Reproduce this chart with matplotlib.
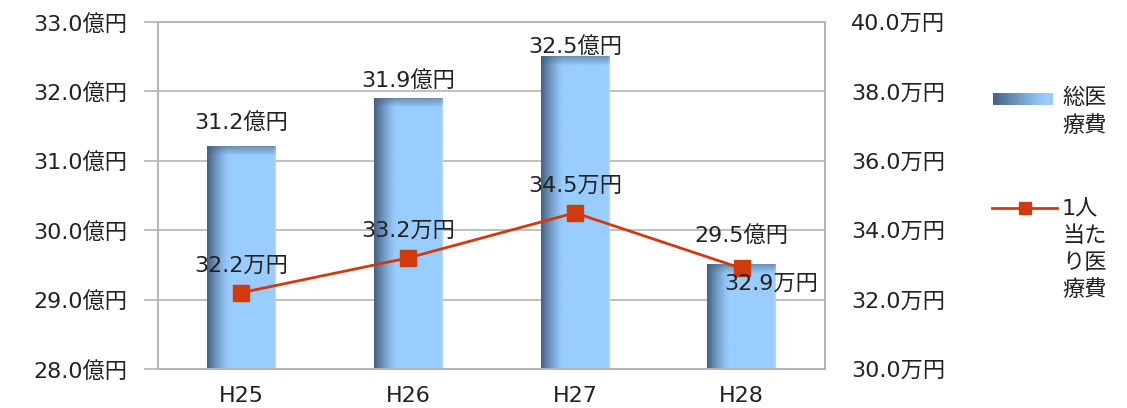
import numpy as np
import matplotlib
matplotlib.use("Agg")
import matplotlib.pyplot as plt
from matplotlib.ticker import FuncFormatter

plt.rcParams['font.family'] = ['DejaVu Sans', 'Noto Sans CJK JP']

# ---- data ----
years = ["H25", "H26", "H27", "H28"]
total_cost = [31.2, 31.9, 32.5, 29.5]        # 総医療費 (億円)
per_capita = [32.2, 33.2, 34.5, 32.9]        # 1人当たり医療費 (万円)
left_ticks = [28.0, 29.0, 30.0, 31.0, 32.0, 33.0]
right_ticks = [30.0, 32.0, 34.0, 36.0, 38.0, 40.0]
bar_label_name = "総医\n療費"
line_label_name = "1人\n当た\nり医\n療費"

# ---- styling ----
FS = 16
TXT = "#222222"
GRID = "#B4B4B4"
LINE_C = "#D13A0C"
DARK = np.array([0.27, 0.38, 0.50])
LIGHT = np.array([0.60, 0.80, 1.00])
BAR_W = 0.41
# label offsets in points (dx, dy)
bar_label_off = [(0, 10), (0, 5), (0, 0), (0, 14)]
line_label_off = [(0, 12), (0, 12), (0, 12), (21, -11)]
line_label_va = ["bottom", "bottom", "bottom", "center"]

fig = plt.figure(figsize=(11.27, 4.08), dpi=100)
ax = fig.add_axes([158 / 1127, 39 / 408, (825 - 158) / 1127, (369 - 22) / 408])
ax2 = ax.twinx()

x = np.arange(len(years))
ymin, ymax = left_ticks[0], left_ticks[-1]
ax_h_px = 369 - 22
px_per_unit = ax_h_px / (ymax - ymin)


def bar_gradient(height_px, nx=120):
    ny = max(int(height_px), 2)
    u = np.linspace(0, 1, nx)[None, :]
    v = np.linspace(0, height_px, ny)[:, None]  # distance from top in px
    f = np.clip(1 - u / 0.32, 0, 1) ** 1.3
    g = np.clip(1 - v / 9.0, 0, 1) * 0.55
    m = np.clip(f + g * (1 - f), 0, 1)
    img = LIGHT[None, None, :] * (1 - m[..., None]) + DARK[None, None, :] * m[..., None]
    # slight highlight at right edge
    edge = np.clip(1 - (1 - u) / 0.03, 0, 1)[..., None] * 0.25
    img = img * (1 - edge) + edge
    return np.clip(img, 0, 1)


for xi, h in zip(x, total_cost):
    hp = (h - ymin) * px_per_unit
    ax.imshow(bar_gradient(hp), extent=(xi - BAR_W / 2, xi + BAR_W / 2, ymin, h),
              aspect='auto', interpolation='bilinear', zorder=2, origin='upper')

for xi, h, off in zip(x, total_cost, bar_label_off):
    ax.annotate(f"{h:.1f}億円", (xi, h), xytext=off, textcoords='offset points',
                ha='center', va='bottom', fontsize=FS, color=TXT, zorder=5)

ax.set_xlim(-0.5, len(years) - 0.5)
ax.set_ylim(ymin, ymax)
ax.set_yticks(left_ticks)
ax.yaxis.set_major_formatter(FuncFormatter(lambda v, p: f"{v:.1f}億円"))
ax.set_xticks(x)
ax.set_xticklabels(years)
ax.grid(axis='y', color=GRID, linewidth=1.2, zorder=0)
ax.set_axisbelow(True)
ax.tick_params(axis='y', length=10, width=1.2, color=GRID, pad=12,
               labelsize=FS, labelcolor=TXT)
ax.tick_params(axis='x', length=0, pad=12, labelsize=FS, labelcolor=TXT)

for s in ["left", "right", "bottom", "top"]:
    ax.spines[s].set_color(GRID)
    ax.spines[s].set_linewidth(1.2)
    ax2.spines[s].set_color(GRID)
    ax2.spines[s].set_linewidth(1.2)

ax2.plot(x, per_capita, color=LINE_C, linewidth=2.0, marker='s', markersize=11,
         markeredgecolor=LINE_C, markerfacecolor=LINE_C, zorder=4)
for xi, v, off, va in zip(x, per_capita, line_label_off, line_label_va):
    ax2.annotate(f"{v:.1f}万円", (xi, v), xytext=off, textcoords='offset points',
                 ha='center', va=va, fontsize=FS, color=TXT, zorder=6)
ax2.set_ylim(right_ticks[0], right_ticks[-1])
ax2.set_yticks(right_ticks)
ax2.yaxis.set_major_formatter(FuncFormatter(lambda v, p: f"{v:.1f}万円"))
ax2.tick_params(axis='y', length=0, pad=19, labelsize=FS, labelcolor=TXT)
ax2.set_xlim(-0.5, len(years) - 0.5)

# ---- legend (drawn beside the plot) ----
W, H = 1127, 408
sw = fig.add_axes([993 / W, (H - 105) / H, 60 / W, 12 / H])
u = np.linspace(0, 1, 100)[None, :]
m = np.clip(1 - u / 0.9, 0, 1) ** 1.2
sw_img = LIGHT[None, None, :] * (1 - m[..., None]) + DARK[None, None, :] * m[..., None]
sw.imshow(sw_img, aspect='auto', interpolation='bilinear')
sw.axis('off')

fig.lines.append(plt.Line2D([992 / W, 1057 / W], [(H - 208) / H] * 2, transform=fig.transFigure,
                            color=LINE_C, linewidth=2.0))
fig.lines.append(plt.Line2D([1025 / W], [(H - 208) / H], transform=fig.transFigure,
                            color=LINE_C, marker='s', markersize=9, linestyle='none'))

fig.text(1062 / W, (H - 88) / H, bar_label_name, fontsize=FS, color=TXT,
         va='top', ha='left', linespacing=1.42)
fig.text(1062 / W, (H - 199) / H, line_label_name, fontsize=FS, color=TXT,
         va='top', ha='left', linespacing=1.4)

fig.savefig("out.png", dpi=100)
